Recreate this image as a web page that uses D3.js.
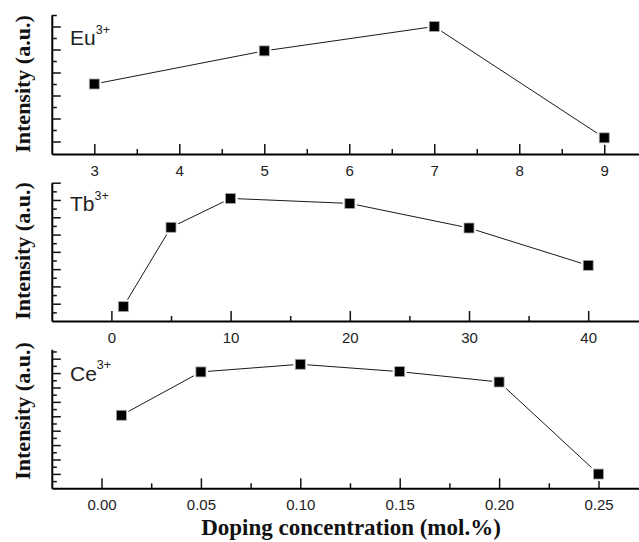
<!DOCTYPE html>
<html>
<head>
<meta charset="utf-8">
<script src="https://cdn.jsdelivr.net/npm/d3@7"></script>
<style>
  html, body { margin: 0; padding: 0; background: #fff; }
  svg { display: block; }
  .xlab text { font-family: 'Liberation Sans', Arial, sans-serif; font-size: 15px; fill: #222; }
</style>
</head>
<body>
<svg id="chart" width="639" height="542"></svg>
<script>
// ---- data ----
const euConc = [3, 5, 7, 9];
const euIntensity = [3.5, 4.94, 6.0, 1.16];
const tbConc = [1, 5, 10, 20, 30, 40];
const tbIntensity = [0.83, 5.42, 7.09, 6.80, 5.38, 3.22];
const ceConc = [0.01, 0.05, 0.10, 0.15, 0.20, 0.25];
const ceIntensity = [5.07, 8.08, 8.61, 8.10, 7.38, 0.99];

const euTicks = [3, 4, 5, 6, 7, 8, 9];
const euMinor = [3.5, 4.5, 5.5, 6.5, 7.5, 8.5];
const tbTicks = [0, 10, 20, 30, 40];
const tbMinor = [5, 15, 25, 35];
const ceTicks = [0, 0.05, 0.10, 0.15, 0.20, 0.25];
const ceMinor = [0.025, 0.075, 0.125, 0.175, 0.225];

const panelLabels = ["Eu", "Tb", "Ce"];
const yTitle = "Intensity (a.u.)";
const xTitle = "Doping concentration (mol.%)";

// ---- layout ----
const svg = d3.select("#chart");
const left = 51.8;

const panels = [
  { x: euConc, y: euIntensity, ticks: euTicks, minor: euMinor, fmt: d3.format("d"),
    xDomain: [2.5, 9.65], xRangeEnd: 659.5,
    top: 15, bottom: 154, yDomain: [0.457, 6.5], yMajor: [1,2,3,4,5,6], yMinor: [1.5,2.5,3.5,4.5,5.5,6.5],
    label: panelLabels[0], labelY: 45, titleCy: 84 },
  { x: tbConc, y: tbIntensity, ticks: tbTicks, minor: tbMinor, fmt: d3.format("d"),
    xDomain: [-5, 46], xRangeEnd: 51.8 + 51 * 11.92,
    top: 182.7, bottom: 321, yDomain: [0, 8], yMajor: [1,2,3,4,5,6,7,8], yMinor: [0.5,1.5,2.5,3.5,4.5,5.5,6.5,7.5],
    label: panelLabels[1], labelY: 211, titleCy: 251 },
  { x: ceConc, y: ceIntensity, ticks: ceTicks, minor: ceMinor, fmt: d3.format(".2f"),
    xDomain: [-0.025, 0.28], xRangeEnd: 51.8 + 0.305 * 1988,
    top: 349.3, bottom: 488.3, yDomain: [0, 9.65], yMajor: [1,2,3,4,5,6,7,8,9], yMinor: [0.5,1.5,2.5,3.5,4.5,5.5,6.5,7.5,8.5,9.5],
    label: panelLabels[2], labelY: 380.7, titleCy: 411 }
];

panels.forEach(p => {
  const xs = d3.scaleLinear().domain(p.xDomain).range([left, p.xRangeEnd]);
  const ys = d3.scaleLinear().domain(p.yDomain).range([p.bottom, p.top]);

  // x axis (major, with labels)
  const gx = svg.append("g").attr("class", "xlab").attr("transform", `translate(0,${p.bottom})`)
    .call(d3.axisBottom(xs).tickValues(p.ticks).tickFormat(p.fmt)
      .tickSizeInner(-10).tickSizeOuter(0).tickPadding(11.5));
  gx.attr("font-size", null).attr("font-family", null);
  gx.select(".domain").attr("stroke", "#000").attr("stroke-width", 2);
  gx.selectAll(".tick line").attr("stroke", "#111").attr("stroke-width", 1.5);

  // x minor
  const gxm = svg.append("g").attr("transform", `translate(0,${p.bottom})`)
    .call(d3.axisBottom(xs).tickValues(p.minor).tickFormat("").tickSizeInner(-5).tickSizeOuter(0));
  gxm.select(".domain").remove();
  gxm.selectAll(".tick line").attr("stroke", "#111").attr("stroke-width", 1.5);

  // y axis major
  const gy = svg.append("g").attr("transform", `translate(${left},0)`)
    .call(d3.axisLeft(ys).tickValues(p.yMajor).tickFormat("").tickSizeInner(-9).tickSizeOuter(0));
  gy.select(".domain").attr("stroke", "#000").attr("stroke-width", 2);
  gy.selectAll(".tick line").attr("stroke", "#111").attr("stroke-width", 1.5);

  const gym = svg.append("g").attr("transform", `translate(${left},0)`)
    .call(d3.axisLeft(ys).tickValues(p.yMinor).tickFormat("").tickSizeInner(-5).tickSizeOuter(0));
  gym.select(".domain").remove();
  gym.selectAll(".tick line").attr("stroke", "#111").attr("stroke-width", 1.5);

  // line
  const pts = p.x.map((v, i) => [v, p.y[i]]);
  svg.append("path").datum(pts)
    .attr("fill", "none").attr("stroke", "#1a1a1a").attr("stroke-width", 1)
    .attr("d", d3.line().x(d => xs(d[0])).y(d => ys(d[1])));

  // markers
  const m = svg.append("g");
  m.selectAll("rect.halo").data(pts).join("rect").attr("class", "halo")
    .attr("x", d => xs(d[0]) - 7).attr("y", d => ys(d[1]) - 7)
    .attr("width", 14).attr("height", 14).attr("fill", "#fff");
  m.selectAll("rect.mk").data(pts).join("rect").attr("class", "mk")
    .attr("x", d => xs(d[0]) - 5).attr("y", d => ys(d[1]) - 5)
    .attr("width", 10).attr("height", 10).attr("fill", "#000")
    .attr("stroke", "#aaa").attr("stroke-width", 0.8);

  // panel label
  const t = svg.append("text").attr("x", 70).attr("y", p.labelY)
    .style("font-family", "'Liberation Sans', Arial, sans-serif").style("font-size", "21px").attr("fill", "#222");
  t.append("tspan").text(p.label);
  t.append("tspan").style("font-size", "12.5px").attr("dy", -11.5).text("3+");

  // y title
  svg.append("text").attr("transform", `translate(30,${p.titleCy}) rotate(-90)`)
    .attr("text-anchor", "middle")
    .style("font-family", "'Liberation Serif', 'Times New Roman', serif").style("font-weight", "bold")
    .style("font-size", "22px").attr("fill", "#111").text(yTitle);
});

svg.append("text").attr("x", 351).attr("y", 535).attr("text-anchor", "middle")
  .style("font-family", "'Liberation Serif', 'Times New Roman', serif").style("font-weight", "bold")
  .style("font-size", "23px").attr("fill", "#111").text(xTitle);
</script>
</body>
</html>
